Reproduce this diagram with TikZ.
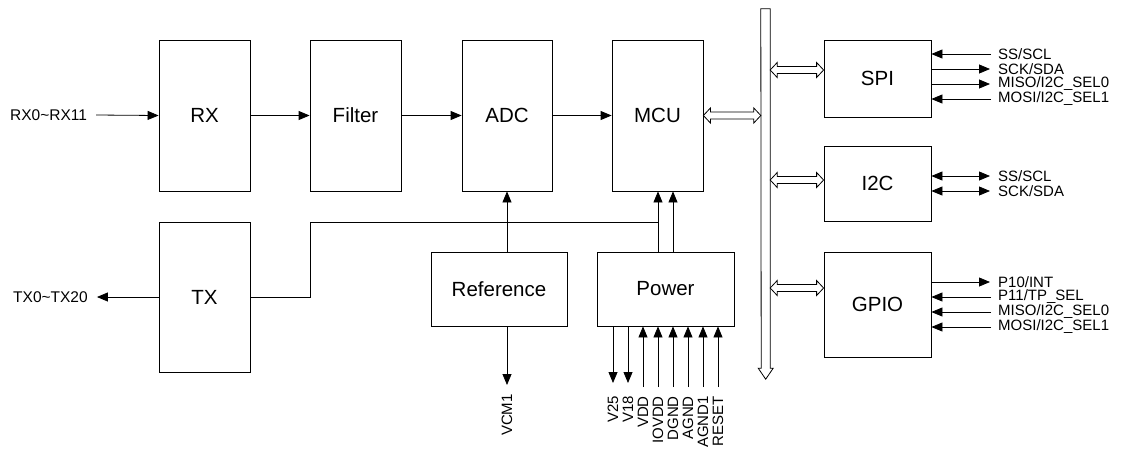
\documentclass[tikz,border=0pt]{standalone}
\usepackage{fontspec}
\setmainfont{Liberation Sans}
\usetikzlibrary{arrows.meta,calc}
\newcommand{\dblarr}[2]{\draw[conn] let \p1=#1, \p2=#2 in
  (\x1,\y1) -- ++(7pt,7.5pt) -- ++(0pt,-4pt) -- (\x2-7pt,\y1+3.5pt) -- ++(0pt,4pt)
  -- (\x2,\y1) -- ++(-7pt,-7.5pt) -- ++(0pt,4pt) -- (\x1+7pt,\y1-3.5pt) -- ++(0pt,-4pt) -- cycle;}
\begin{document}
\begin{tikzpicture}[x=1pt,y=-1pt,
  conn/.style={line width=0.8pt},
  blk/.style={draw, line width=0.8pt, inner sep=0pt, font=\fontsize{20.5}{24}\selectfont},
  sig/.style={inner sep=0pt, anchor=west, font=\fontsize{15.5}{18}\selectfont},
  pin/.style={inner sep=0pt, anchor=west, font=\fontsize{15}{16}\selectfont},
  vpin/.style={inner sep=0pt, anchor=east, rotate=90, font=\fontsize{15}{17}\selectfont},
  tip/.style={-{Triangle[length=11pt,width=9pt]}},
  tips/.style={{Triangle[length=11pt,width=9pt]}-{Triangle[length=11pt,width=9pt]}}]
\useasboundingbox (0,0) rectangle (1125,451);

% blocks
\node[blk, minimum width=91pt, minimum height=151pt] (rx) at (204.5,115.5) {RX};
\node[blk, minimum width=91pt, minimum height=151pt] (filter) at (355.5,115.5) {Filter};
\node[blk, minimum width=90pt, minimum height=151pt] (adc) at (507,115.5) {ADC};
\node[blk, minimum width=91pt, minimum height=151pt] (mcu) at (657.5,115.5) {MCU};
\node[blk, minimum width=91pt, minimum height=150pt] (tx) at (204.5,297) {TX};
\node[blk, minimum width=136pt, minimum height=74pt] (reference) at (499,289) {Reference};
\node[blk, minimum width=137pt, minimum height=74pt] (power) at (665.5,289) {Power};
\node[blk, minimum width=107pt, minimum height=77pt] (spi) at (877.5,78.5) {SPI};
\node[blk, minimum width=107pt, minimum height=75pt] (i2c) at (877.5,183.5) {I2C};
\node[blk, minimum width=107pt, minimum height=105pt] (gpio) at (877.5,304.5) {GPIO};
\node[inner sep=0pt, minimum width=9pt, minimum height=359pt] (bus) at (765.5,188.5) {};

% bus bar
\draw[conn] (bus.north west) -- (bus.north east) -- (bus.south east) -- ++(3pt,0pt)
  -- ++(-7.5pt,-11pt) -- ++(-7.5pt,11pt) -- ++(3pt,0pt) -- cycle;

% left signals
\node[sig] (rxl) at (10,115) {RX0\textasciitilde RX11};
\node[sig] (txl) at (13,297) {TX0\textasciitilde TX20};
\draw[conn,tip] ([xshift=9pt]rxl.east) -- (rx.west);
\draw[conn,tip] (tx.west) -- ([xshift=9pt]txl.east);

% main chain
\draw[conn,tip] (rx.east) -- (filter.west);
\draw[conn,tip] (filter.east) -- (adc.west);
\draw[conn,tip] (adc.east) -- (mcu.west);

% TX feed and power to MCU
\coordinate (tj1) at (310,222);
\coordinate (tj2) at (658,222);
\coordinate (pm2) at (673,222);
\draw[conn] (tx.east) -| (tj1) -- (tj2);
\draw[conn,tip] (power.north -| tj2) -- (mcu.south -| tj2);
\draw[conn,tip] (power.north -| pm2) -- (mcu.south -| pm2);
\draw[conn,tip] (reference.north -| adc.south) -- (adc.south);

% VCM1
\node[vpin] (vcm) at (507,394) {VCM1};
\draw[conn,tip] (reference.south -| vcm.east) -- ([yshift=9pt]vcm.east);

% power pins
\node[vpin] (p1) at (613,396) {V25};
\node[vpin] (p2) at (628,396) {V18};
\node[vpin] (p3) at (643,396) {VDD};
\node[vpin] (p4) at (658,396) {IOVDD};
\node[vpin] (p5) at (673,396) {DGND};
\node[vpin] (p6) at (688,396) {AGND};
\node[vpin] (p7) at (703,396) {AGND1};
\node[vpin] (p8) at (718,396) {RESET};
\draw[conn,tip] (power.south -| p1.east) -- ([yshift=13pt]p1.east);
\draw[conn,tip] (power.south -| p2.east) -- ([yshift=13pt]p2.east);
\foreach \p in {p3,p4,p5,p6,p7,p8}
  \draw[conn,tip] ([yshift=9pt]\p.east) -- (power.south -| \p.east);

% bus double arrows
\dblarr{(mcu.east)}{(bus.west |- mcu.east)}
\dblarr{(bus.east |- 0,70)}{(spi.west |- 0,70)}
\dblarr{(bus.east |- 0,180)}{(i2c.west |- 0,180)}
\dblarr{(bus.east |- 0,288)}{(gpio.west |- 0,288)}

% SPI pins
\node[pin] (s1) at (998,54) {SS/SCL};
\node[pin] (s2) at (998,69) {SCK/SDA};
\node[pin] (s3) at (998,84) {MISO/I2C\_SEL0};
\node[pin] (s4) at (998,99) {MOSI/I2C\_SEL1};
\draw[conn,tip] ([xshift=-7pt]s1.west) -- (spi.east |- s1.west);
\draw[conn,tip] (spi.east |- s2.west) -- ([xshift=-8pt]s2.west);
\draw[conn,tip] (spi.east |- s3.west) -- ([xshift=-8pt]s3.west);
\draw[conn,tip] ([xshift=-7pt]s4.west) -- (spi.east |- s4.west);

% I2C pins
\node[pin] (c1) at (998,176) {SS/SCL};
\node[pin] (c2) at (998,191) {SCK/SDA};
\draw[conn,tips] (i2c.east |- c1.west) -- ([xshift=-8pt]c1.west);
\draw[conn,tips] (i2c.east |- c2.west) -- ([xshift=-8pt]c2.west);

% GPIO pins
\node[pin] (g1) at (998,282) {P10/INT};
\node[pin] (g2) at (998,297) {P11/TP\_SEL};
\node[pin] (g3) at (998,312) {MISO/I2C\_SEL0};
\node[pin] (g4) at (998,327) {MOSI/I2C\_SEL1};
\draw[conn,tip] (gpio.east |- g1.west) -- ([xshift=-8pt]g1.west);
\draw[conn,tip] ([xshift=-7pt]g2.west) -- (gpio.east |- g2.west);
\draw[conn,tip] ([xshift=-7pt]g3.west) -- (gpio.east |- g3.west);
\draw[conn,tip] ([xshift=-7pt]g4.west) -- (gpio.east |- g4.west);
\end{tikzpicture}
\end{document}
